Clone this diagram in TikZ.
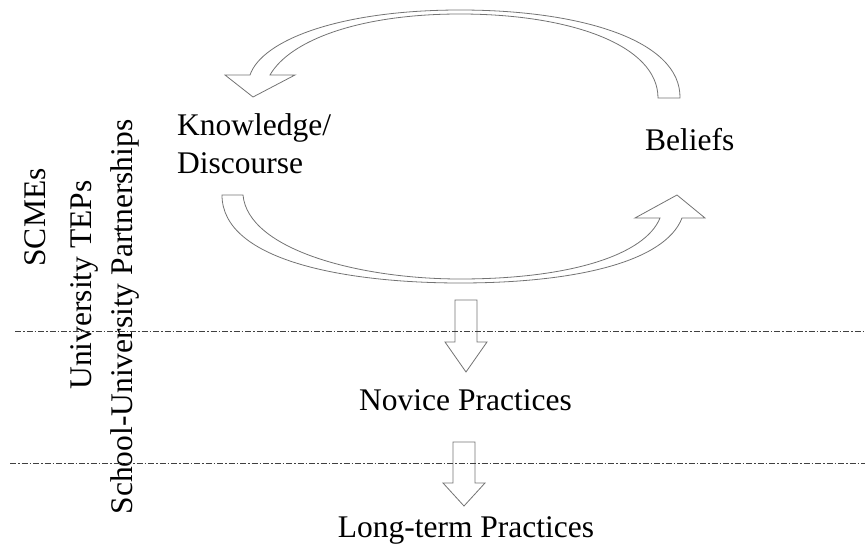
\documentclass[tikz,border=0pt]{standalone}
\usepackage{fontspec}
\setmainfont{Liberation Serif}
\begin{document}
\begin{tikzpicture}[x=1pt,y=-1pt,
  lbl/.style={inner sep=0pt,font=\fontsize{31.5}{38}\selectfont},
  blockarrow/.style={draw=black!55,line width=0.8pt,line join=miter},
  sepline/.style={draw=black!75,line width=0.8pt,dash pattern=on 6pt off 2pt on 1.5pt off 2pt}]
\useasboundingbox (0,0) rectangle (865,548);
% texts
\node[lbl,anchor=base west] (know) at (177,136) {Knowledge/};
\node[lbl,anchor=base west] (disc) at (177,174) {Discourse};
\node[lbl,anchor=base west] (bel) at (645,151) {Beliefs};
\node[lbl,anchor=base] (nov) at (465.5,410) {Novice Practices};
\node[lbl,anchor=base] (lt) at (466,537) {Long-term Practices};
\node[lbl,anchor=base,rotate=90] (scme) at (45,217.5) {SCMEs};
\node[lbl,anchor=base,rotate=90] (utep) at (91,285) {University TEPs};
\node[lbl,anchor=base,rotate=90] (sup) at (132,317) {School-University Partnerships};
% top curved arrow (Beliefs -> Knowledge)
\path[blockarrow] (658,98) -- (680,98)
  .. controls (681,40) and (580,10) .. (460,10)
  .. controls (340,10) and (262,40) .. (250,75)
  -- (225,75) -- (253,97) -- (295,75) -- (270,75)
  .. controls (290,40) and (360,14) .. (460,14)
  .. controls (570,14) and (658,45) .. cycle;
% bottom curved arrow (Knowledge -> Beliefs)
\path[blockarrow] (222,195) -- (243,195)
  .. controls (248,250) and (360,279) .. (460,279)
  .. controls (570,279) and (645,255) .. (660,218)
  -- (635,218) -- (677,195) -- (705,218) -- (682,218)
  .. controls (665,262) and (575,283) .. (460,283)
  .. controls (350,283) and (222,262) .. cycle;
% down arrows
\path[blockarrow] (455,300) -- (477,300) -- (477,342) -- (487,342) -- (466,372) -- (445,342) -- (455,342) -- cycle;
\path[blockarrow] (453,442) -- (475,442) -- (475,483) -- (485,483) -- (464,506) -- (443,483) -- (453,483) -- cycle;
% separator lines
\coordinate (s1a) at (15,331); \coordinate (s1b) at (865,331);
\coordinate (s2a) at (10,463); \coordinate (s2b) at (865,463);
\draw[sepline] (s1a) -- (s1b);
\draw[sepline] (s2a) -- (s2b);
\end{tikzpicture}
\end{document}
